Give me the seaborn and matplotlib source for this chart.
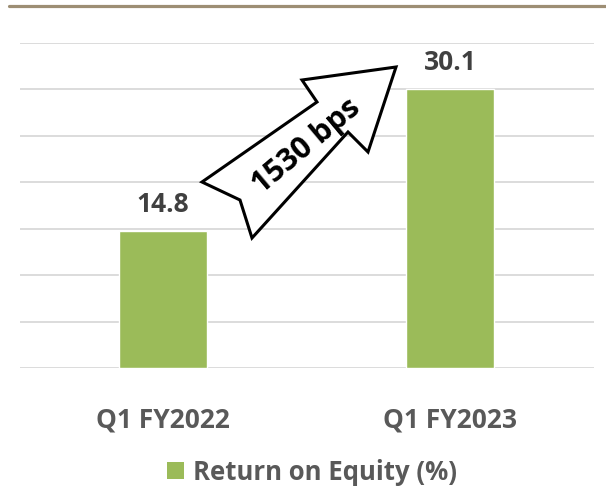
import matplotlib
matplotlib.use("Agg")
import matplotlib.pyplot as plt
import seaborn as sns
from matplotlib.patches import Polygon, Patch
from matplotlib.lines import Line2D

categories = ["Q1 FY2022", "Q1 FY2023"]
values = [14.8, 30.1]
series_name = "Return on Equity (%)"
change_label = "1530 bps"

BAR = "#9bbb59"
TXT = "#595959"
VAL = "#404040"
GRID = "#d9d9d9"

sns.set_theme(style="white")
plt.rcParams["font.family"] = ["Open Sans", "DejaVu Sans"]

W, H = 606, 488
fig = plt.figure(figsize=(W / 100, H / 100), dpi=100)
ax = fig.add_axes([19.5 / W, 1 - 368 / H, 574 / W, (368 - 43) / H])

sns.barplot(x=categories, y=values, color=BAR, saturation=1, width=0.31, ax=ax, zorder=3)
ax.set_xlim(-0.5, 1.5)
ax.set_ylim(0, 35)
ax.set_yticks(range(0, 36, 5))
ax.yaxis.grid(True, color=GRID, linewidth=1.3, zorder=0)
ax.set_axisbelow(True)
for s in ax.spines.values():
    s.set_visible(False)
ax.tick_params(axis="y", left=False, labelleft=False)
ax.tick_params(axis="x", bottom=False, pad=22)
for lbl in ax.get_xticklabels():
    lbl.set_fontsize(19)
    lbl.set_fontweight("bold")
    lbl.set_color(TXT)
ax.set_xlabel("")
ax.set_ylabel("")

ax.bar_label(ax.containers[0], labels=[f"{v:.1f}" for v in values], padding=9,
             fontsize=19, fontweight="bold", color=VAL)

# top decorative rule
fig.add_artist(Line2D([9 / W, 1.0], [1 - 5.5 / H, 1 - 5.5 / H], transform=fig.transFigure,
                      color="#9d8e74", linewidth=2.3))

# block arrow (notched)
pts = [(202, 182), (317, 102), (302, 80), (396, 67), (368, 152), (348, 132), (252, 238), (240, 200)]
poly = Polygon([(x / W, 1 - y / H) for x, y in pts], closed=True, transform=fig.transFigure,
               facecolor="white", edgecolor="black", linewidth=2.2, zorder=5)
fig.add_artist(poly)
fig.text(307 / W, 1 - 146 / H, change_label, rotation=40, ha="center", va="center",
         rotation_mode="anchor", fontsize=22, fontweight="bold", color="black", zorder=6)

leg = fig.legend(handles=[Patch(facecolor=BAR, edgecolor="none", label=series_name)],
                 loc="center", bbox_to_anchor=(312 / W, 1 - 472 / H), frameon=False,
                 handlelength=0.65, handleheight=0.65, handletextpad=0.35,
                 prop={"size": 18.5, "weight": "bold"})
for t in leg.get_texts():
    t.set_color(TXT)

fig.savefig("out.png", dpi=100)
